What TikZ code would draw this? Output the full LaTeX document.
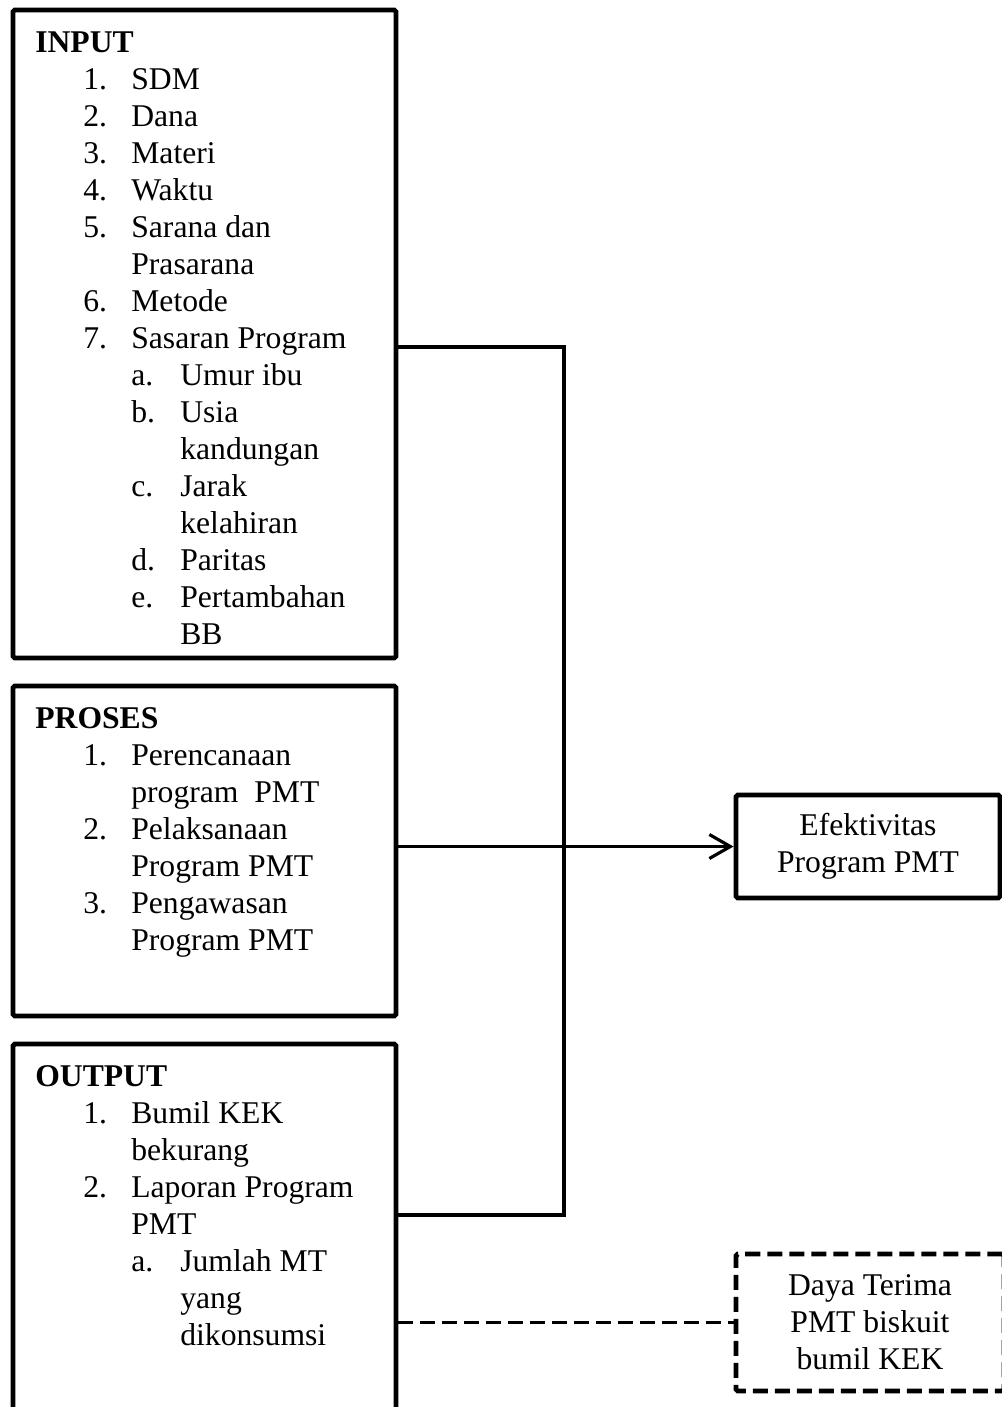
\documentclass[tikz,border=0pt]{standalone}
\usepackage{fontspec}
\setmainfont{Liberation Serif}
\usepackage{tikz}
\usetikzlibrary{arrows.meta,positioning}

% numbered rows and lettered sub-rows of the lists
\newcommand{\nitem}[2]{\hspace*{0.96cm}\makebox[0.96cm][l]{#1}#2}
\newcommand{\sitem}[2]{\hspace*{1.92cm}\makebox[0.98cm][l]{#1}#2}

\begin{document}
\begin{tikzpicture}[
  font=\fontsize{18}{21.06}\selectfont,
  box/.style={rectangle, draw, line width=2.8pt, rounded corners=1pt},
  dbox/.style={box, dash pattern=on 0.3cm off 0.14cm, align=center},
  cbox/.style={box, align=center},
  list/.style={anchor=base west, inner sep=0pt},
  link/.style={line width=1.8pt},
  arr/.style={link, -{Straight Barb[length=0.42cm,width=0.48cm]}},
  dlink/.style={line width=2.2pt, dash pattern=on 0.3cm off 0.14cm}
]
\useasboundingbox (0,0) rectangle (20.02,-28.14);

% left column
\node[box, minimum width=7.66cm, minimum height=12.96cm] (input) at (4.09,-6.68) {};
\node[box, minimum width=7.66cm, minimum height=6.60cm] (proses) at (4.09,-17.02) {};
\node[box, minimum width=7.66cm, minimum height=7.72cm] (output) at (4.09,-24.74) {};

\node[list] (inputtxt) at (0.70,-1.04) {%
\begin{tabular}[t]{@{}l@{}}
\textbf{INPUT}\\
\nitem{1.}{SDM}\\
\nitem{2.}{Dana}\\
\nitem{3.}{Materi}\\
\nitem{4.}{Waktu}\\
\nitem{5.}{Sarana dan}\\
\nitem{}{Prasarana}\\
\nitem{6.}{Metode}\\
\nitem{7.}{Sasaran Program}\\
\sitem{a.}{Umur ibu}\\
\sitem{b.}{Usia}\\
\sitem{}{kandungan}\\
\sitem{c.}{Jarak}\\
\sitem{}{kelahiran}\\
\sitem{d.}{Paritas}\\
\sitem{e.}{Pertambahan}\\
\sitem{}{BB}
\end{tabular}};

\node[list] (prosestxt) at (0.70,-14.56) {%
\begin{tabular}[t]{@{}l@{}}
\textbf{PROSES}\\
\nitem{1.}{Perencanaan}\\
\nitem{}{program~ PMT}\\
\nitem{2.}{Pelaksanaan}\\
\nitem{}{Program PMT}\\
\nitem{3.}{Pengawasan}\\
\nitem{}{Program PMT}
\end{tabular}};

\node[list] (outputtxt) at (0.70,-21.72) {%
\begin{tabular}[t]{@{}l@{}}
\textbf{OUTPUT}\\
\nitem{1.}{Bumil KEK}\\
\nitem{}{bekurang}\\
\nitem{2.}{Laporan Program}\\
\nitem{}{PMT}\\
\sitem{a.}{Jumlah MT}\\
\sitem{}{yang}\\
\sitem{}{dikonsumsi}
\end{tabular}};

% right column
\node[cbox, minimum width=5.28cm, minimum height=2.06cm] (efektif) at (17.36,-16.93) {Efektivitas\\Program PMT};
\node[dbox, minimum width=5.36cm, minimum height=2.74cm] (daya) at (17.40,-26.45) {Daya Terima\\PMT biskuit\\bumil KEK};

% connectors
\coordinate (jointop) at (11.28,-6.94);
\coordinate (joinbot) at (11.28,-24.30);
\draw[link] (input.east |- jointop) -- (jointop) -- (joinbot) -- (output.east |- joinbot);
\draw[arr] (proses.east |- efektif) -- (efektif);
\draw[dlink] (output.east |- daya) -- (daya);

\end{tikzpicture}
\end{document}
